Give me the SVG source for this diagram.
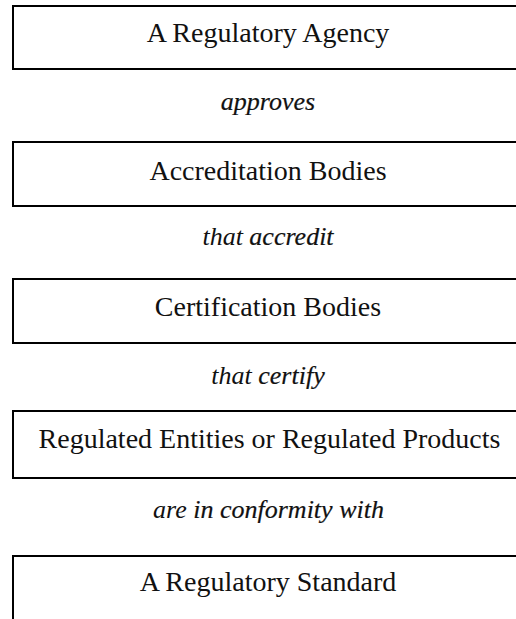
<svg xmlns="http://www.w3.org/2000/svg" width="516" height="619" viewBox="0 0 516 619">
<style>
.box{fill:#fff;stroke:#000;stroke-width:2}
.t{font-family:"Liberation Serif","Times New Roman",serif;font-size:28px;fill:#111;text-anchor:middle}
.lab{font-family:"Liberation Serif","Times New Roman",serif;font-size:26px;font-style:italic;fill:#111;text-anchor:middle}
.em{stroke:#111;stroke-width:0.2}
</style>
<rect width="516" height="619" fill="#fff"/>
<g id="n1"><rect class="box" x="13" y="6" width="520" height="63"/><text class="t" x="268" y="42">A Regulatory Agency</text></g>
<g id="n2"><rect class="box" x="13" y="142" width="520" height="64"/><text class="t" x="268" y="180">Accreditation Bodies</text></g>
<g id="n3"><rect class="box" x="13" y="279" width="520" height="64"/><text class="t" x="268" y="316">Certification Bodies</text></g>
<g id="n4"><rect class="box" x="13" y="411" width="520" height="67"/><text class="t" x="269.5" y="448">Regulated Entities or Regulated Products</text></g>
<g id="n5"><rect class="box" x="13" y="556" width="520" height="80"/><text class="t" x="268" y="591">A Regulatory Standard</text></g>
<g id="connectors">
<text class="lab" x="268" y="110"><tspan class="em">approves</tspan></text>
<text class="lab" x="268" y="245">that <tspan class="em">accredit</tspan></text>
<text class="lab" x="268" y="384">that <tspan class="em">certify</tspan></text>
<text class="lab" x="268.5" y="518">are <tspan class="em">in conformity with</tspan></text>
</g>
</svg>
